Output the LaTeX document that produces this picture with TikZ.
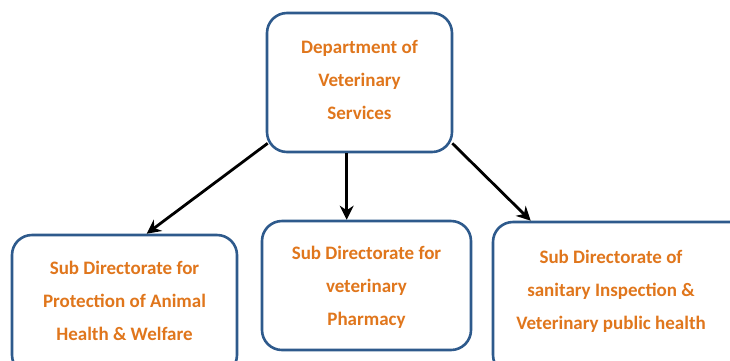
\documentclass[tikz,border=0pt]{standalone}
\usepackage{fontspec}
\setmainfont{Carlito}
\usetikzlibrary{arrows.meta,calc}
\definecolor{boxblue}{HTML}{2E5A8C}
\definecolor{txtorange}{HTML}{E0761C}
\begin{document}
\begin{tikzpicture}[x=1pt,y=-1pt,
  orgbox/.style={draw=boxblue,line width=2.6pt,rounded corners=20pt,fill=white,inner sep=0pt},
  orgtext/.style={text=txtorange,font=\bfseries\fontsize{19}{33}\selectfont,align=center,inner sep=0pt},
  conn/.style={line width=2.8pt,-{Stealth[length=14pt,width=14pt]}}]
\useasboundingbox (0,0) rectangle (730,360);
\clip (0,0) rectangle (730,360);
\node[orgbox,minimum width=185pt,minimum height=139pt] (top) at (359.5,82.5) {};
\node[orgbox,minimum width=225pt,minimum height=140pt] (left) at (124.5,305) {};
\node[orgbox,minimum width=209pt,minimum height=129pt] (mid) at (366.5,285.5) {};
\node[orgbox,minimum width=267pt,minimum height=153pt] (right) at (626.5,298.5) {};
\node[orgtext] (ttop) at (359.5,80) {Department of\\Veterinary\\Services};
\node[orgtext] (tleft) at (124.5,300.5) {Sub Directorate for\\Protection of Animal\\Health \& Welfare};
\node[orgtext] (tmid) at (366.5,287.5) {Sub Directorate for\\veterinary\\Pharmacy};
\node[orgtext] (tright) at (611,291) {Sub Directorate of\\sanitary Inspection \&\\Veterinary public health};
\coordinate (ms) at ($(top.south west)+(81,0)$);
\coordinate (me) at ($(mid.north west)+(86,0)$);
\draw[conn] ($(top.south west)+(2,-10)$) -- ($(left.north west)+(136,0)$);
\draw[conn] (ms) -- (me);
\draw[conn] ($(top.south east)+(-1,-10)$) -- ($(right.north west)+(39,0)$);
\end{tikzpicture}
\end{document}
